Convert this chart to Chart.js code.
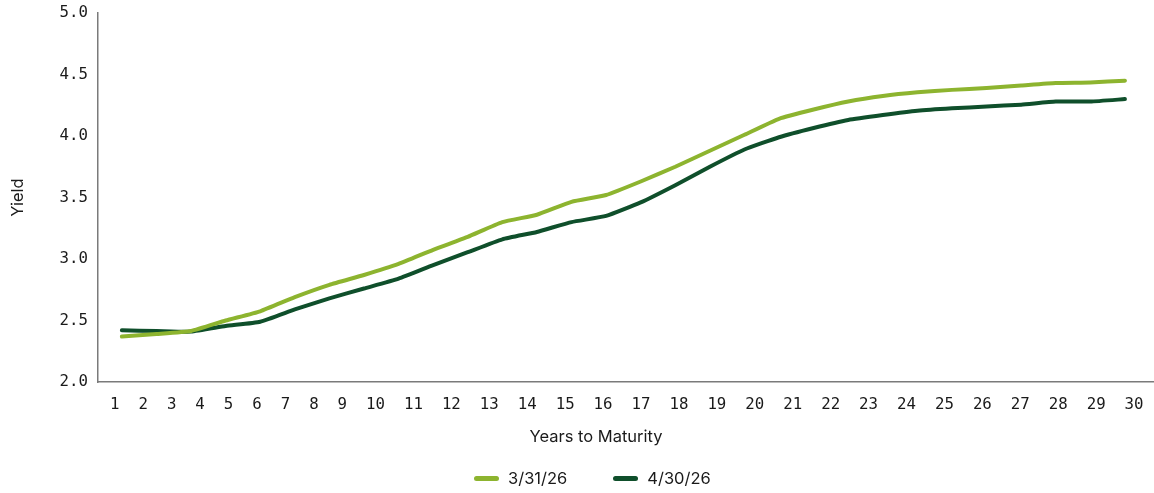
<!DOCTYPE html>
<html>
<head>
<meta charset="utf-8">
<script src="https://cdn.jsdelivr.net/npm/chart.js@4.4.1/dist/chart.umd.min.js"></script>
<style>
  html, body { margin: 0; padding: 0; background: #ffffff; }
  #wrap { position: relative; width: 1154px; height: 493px; }
  #legend {
    position: absolute; left: 474px; top: 468px; height: 20px;
    display: flex; align-items: center; gap: 46px;
    font-family: "Inter", "Open Sans", sans-serif; font-size: 16.5px; color: #1a1a1a;
  }
  #legend .item { display: flex; align-items: center; white-space: nowrap; }
  #legend .swatch { width: 25px; height: 5px; border-radius: 3px; margin-right: 9px; }
</style>
</head>
<body>
<div id="wrap">
  <canvas id="yieldChart"></canvas>
  <div id="legend"></div>
</div>
<script>
// Treasury yield curve, years to maturity 1-30
const years = [1, 2, 3, 4, 5, 6, 7, 8, 9, 10, 11, 12, 13, 14, 15, 16, 17, 18, 19, 20, 21, 22, 23, 24, 25, 26, 27, 28, 29, 30];
const yearLabels = ['1', '2', '3', '4', '5', '6', '7', '8', '9', '10', '11', '12', '13', '14', '15', '16', '17', '18', '19', '20', '21', '22', '23', '24', '25', '26', '27', '28', '29', '30'];
const seriesNames = ['3/31/26', '4/30/26'];
const yieldsMar = [2.37, 2.39, 2.415, 2.50, 2.575, 2.69, 2.79, 2.87, 2.96, 3.075, 3.18, 3.30, 3.36, 3.465, 3.52, 3.63, 3.75, 3.88, 4.01, 4.14, 4.215, 4.28, 4.325, 4.355, 4.375, 4.39, 4.41, 4.43, 4.435, 4.45];
const yieldsApr = [2.42, 2.415, 2.41, 2.455, 2.49, 2.59, 2.68, 2.76, 2.84, 2.95, 3.055, 3.16, 3.22, 3.30, 3.35, 3.46, 3.60, 3.75, 3.89, 3.99, 4.065, 4.13, 4.17, 4.205, 4.225, 4.24, 4.255, 4.28, 4.28, 4.30];
const yTicks = [2.0, 2.5, 3.0, 3.5, 4.0, 4.5, 5.0];

const lightGreen = '#8db42f';
const darkGreen = '#0f4f2b';
const textColor = '#1a1a1a';
const monoFont = '"DejaVu Sans Mono", "Liberation Mono", monospace';
const sansFont = '"Inter", "Open Sans", sans-serif';

const toPoints = vals => years.map((x, i) => ({ x, y: vals[i] }));

// Year labels along the bottom axis plus the axis caption
const axisText = {
  id: 'axisText',
  afterDraw(chart) {
    const { ctx, chartArea } = chart;
    ctx.save();
    ctx.fillStyle = textColor;
    ctx.textBaseline = 'middle';
    ctx.textAlign = 'left';
    ctx.font = '15.75px ' + monoFont;
    ctx.fillText(yearLabels.join('  '), chartArea.left + 12, chartArea.bottom + 23);
    ctx.textAlign = 'center';
    ctx.font = '16.5px ' + sansFont;
    ctx.fillText('Years to Maturity', chartArea.left + 498, chartArea.bottom + 55);
    ctx.restore();
  }
};

const chart = new Chart(document.getElementById('yieldChart'), {
  type: 'line',
  data: {
    datasets: [
      { label: seriesNames[0], data: toPoints(yieldsMar), borderColor: lightGreen, backgroundColor: lightGreen },
      { label: seriesNames[1], data: toPoints(yieldsApr), borderColor: darkGreen, backgroundColor: darkGreen }
    ]
  },
  options: {
    responsive: true,
    maintainAspectRatio: false,
    animation: false,
    layout: { padding: { top: 13, right: 0, bottom: 0, left: 0 } },
    elements: {
      line: { borderWidth: 4, tension: 0.15, borderCapStyle: 'round', borderJoinStyle: 'round' },
      point: { radius: 0, hoverRadius: 0 }
    },
    plugins: {
      legend: { display: false },
      tooltip: { enabled: false }
    },
    scales: {
      x: {
        type: 'linear',
        min: 0.31,
        max: 30.84,
        grid: { display: false, drawTicks: false },
        border: { display: true, color: '#7a7a7a', width: 1.5 },
        ticks: { display: false },
        afterFit(scale) { scale.height = 111; }
      },
      y: {
        min: 2,
        max: 5,
        afterBuildTicks(scale) { scale.ticks = yTicks.map(v => ({ value: v })); },
        grid: { display: false, drawTicks: false },
        border: { display: true, color: '#7a7a7a', width: 1.5 },
        ticks: {
          padding: 10,
          color: textColor,
          font: { family: monoFont, size: 15.75 },
          callback: v => Number(v).toFixed(1)
        },
        title: {
          display: true,
          text: 'Yield',
          color: textColor,
          font: { family: sansFont, size: 16.5 },
          padding: { top: 8, bottom: 0 }
        },
        afterFit(scale) {
          scale.width = 98;
          scale.paddingTop = 0;
          scale.paddingBottom = 0;
        }
      }
    }
  },
  plugins: [axisText]
});

// Legend built from the chart's own legend items
const legendEl = document.getElementById('legend');
Chart.defaults.plugins.legend.labels.generateLabels(chart).forEach(item => {
  const el = document.createElement('div');
  el.className = 'item';
  const sw = document.createElement('span');
  sw.className = 'swatch';
  sw.style.background = item.strokeStyle;
  const tx = document.createElement('span');
  tx.textContent = item.text;
  el.appendChild(sw);
  el.appendChild(tx);
  legendEl.appendChild(el);
});
</script>
</body>
</html>
